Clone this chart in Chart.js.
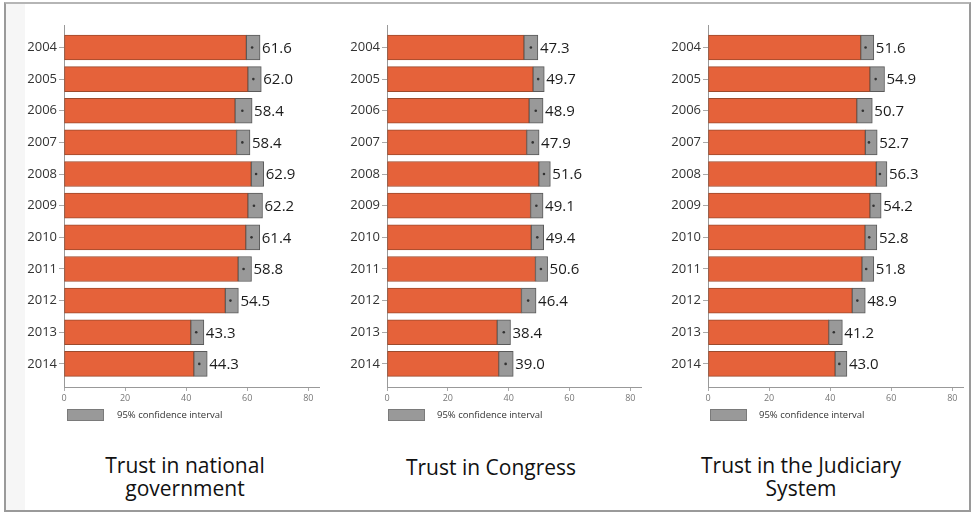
<!DOCTYPE html>
<html>
<head>
<meta charset="utf-8">
<script src="https://cdn.jsdelivr.net/npm/chart.js@4.4.1/dist/chart.umd.min.js"></script>
<style>
  body { margin: 0; background: #fff; font-family: "Open Sans", sans-serif; }
  #wrap { position: relative; width: 974px; height: 514px; overflow: hidden; }
  #frame { position: absolute; left: 4px; top: 2px; width: 963px; height: 506px; border: 2px solid #9a9a9a; border-top-color: #b5b5b5; }
  #strip { position: absolute; left: 6px; top: 4px; width: 19px; height: 506px; background: #f6f6f6; }
  canvas { position: absolute; top: 0; }
  .leg-box { position: absolute; top: 409px; width: 35px; height: 10px; background: #999; border: 1px solid #7a7a7a; }
  .leg-txt { position: absolute; top: 408px; font-size: 9.5px; color: #333; line-height: 14px; white-space: nowrap; }
  .title { position: absolute; top: 454px; width: 300px; text-align: center; font-size: 21px; line-height: 23px; color: #111; }
</style>
</head>
<body>
<div id="wrap">
  <div id="frame"></div>
  <div id="strip"></div>
  <canvas id="c1" width="323" height="410" style="left:0px"></canvas>
  <canvas id="c2" width="322" height="410" style="left:323px"></canvas>
  <canvas id="c3" width="323" height="410" style="left:644px"></canvas>

  <div class="leg-box" style="left:67px"></div><div class="leg-txt" style="left:117px">95% confidence interval</div>
  <div class="leg-box" style="left:388px"></div><div class="leg-txt" style="left:437px">95% confidence interval</div>
  <div class="leg-box" style="left:710px"></div><div class="leg-txt" style="left:759px">95% confidence interval</div>

  <div class="title" style="left:35px">Trust in national<br>government</div>
  <div class="title" style="left:341px;top:456px">Trust in Congress</div>
  <div class="title" style="left:651px">Trust in the Judiciary<br>System</div>
</div>
<script>
var years = ["2004", "2005", "2006", "2007", "2008", "2009", "2010", "2011", "2012", "2013", "2014"];
var xTicks = [0, 20, 40, 60, 80];

// trust in national government
var govValues = [61.6, 62.0, 58.4, 58.4, 62.9, 62.2, 61.4, 58.8, 54.5, 43.3, 44.3];
var govLow    = [59.7, 60.2, 56.0, 56.5, 61.3, 60.2, 59.5, 57.0, 52.8, 41.5, 42.5];
var govHigh   = [64.2, 64.6, 61.6, 60.9, 65.4, 65.0, 64.1, 61.4, 57.1, 45.8, 46.9];

// trust in congress
var conValues = [47.3, 49.7, 48.9, 47.9, 51.6, 49.1, 49.4, 50.6, 46.4, 38.4, 39.0];
var conLow    = [45.0, 48.0, 46.7, 45.9, 49.9, 47.2, 47.4, 48.8, 44.2, 36.2, 36.7];
var conHigh   = [49.6, 51.7, 51.3, 50.0, 53.7, 51.3, 51.5, 52.8, 49.0, 40.6, 41.5];

// trust in the judiciary system
var judValues = [51.6, 54.9, 50.7, 52.7, 56.3, 54.2, 52.8, 51.8, 48.9, 41.2, 43.0];
var judLow    = [50.0, 53.0, 48.7, 51.5, 55.1, 53.0, 51.4, 50.4, 47.2, 39.5, 41.6];
var judHigh   = [54.3, 57.8, 53.8, 55.4, 58.6, 56.7, 55.3, 54.3, 51.5, 44.0, 45.5];

function makePanel(id, values, low, high) {
  var labelPlugin = {
    id: "valueLabels",
    afterDatasetsDraw: function(chart) {
      var ctx = chart.ctx, xs = chart.scales.x, ys = chart.scales.y;
      ctx.save();
      ctx.font = "15px 'Open Sans'";
      ctx.fillStyle = "#1c1c1c";
      ctx.textBaseline = "middle";
      ctx.textAlign = "left";
      values.forEach(function(v, i) {
        ctx.fillText(v.toFixed(1), xs.getPixelForValue(high[i]) + 2, ys.getPixelForValue(i) + 1);
      });
      ctx.restore();
    }
  };

  return new Chart(id, {
    type: "bar",
    data: {
      datasets: [
        {
          type: "scatter",
          order: 0,
          data: values.map(function(v, i) { return {x: v, y: i}; }),
          pointRadius: 1.3,
          pointBackgroundColor: "#333",
          pointBorderWidth: 0
        },
        {
          order: 1,
          grouped: false,
          data: low.map(function(l, i) { return {y: i, x: [l, high[i]]}; }),
          backgroundColor: "#999999",
          borderColor: "#5a5a5a",
          borderWidth: 1,
          borderSkipped: false,
          barThickness: 25
        },
        {
          order: 2,
          grouped: false,
          data: low.map(function(l, i) { return {y: i, x: [0, l]}; }),
          backgroundColor: "#E5623A",
          borderColor: "#9c4a2c",
          borderWidth: 1,
          borderSkipped: false,
          barThickness: 25
        }
      ]
    },
    options: {
      indexAxis: "y",
      responsive: false,
      animation: false,
      layout: {padding: {top: 25, left: 0, right: 0, bottom: 0}},
      scales: {
        y: {
          type: "linear",
          reverse: true,
          offset: false,
          min: -0.71,
          max: 10.73,
          afterBuildTicks: function(s) { s.ticks = years.map(function(_, i) { return {value: i}; }); },
          afterFit: function(s) { s.width = 64; },
          ticks: {
            callback: function(v) { return years[v]; },
            font: {family: "Open Sans", size: 13},
            color: "#333",
            padding: 2
          },
          grid: {drawOnChartArea: false, offset: false, tickLength: 5, color: "#aaa"},
          border: {color: "#999"}
        },
        x: {
          type: "linear",
          min: 0,
          max: 83.5,
          afterBuildTicks: function(s) { s.ticks = xTicks.map(function(t) { return {value: t}; }); },
          afterFit: function(s) { s.height = 23; },
          ticks: {
            font: {family: "Open Sans", size: 9},
            color: "#777",
            padding: 2,
            maxRotation: 0
          },
          grid: {drawOnChartArea: false, tickLength: 4, color: "#aaa"},
          border: {color: "#999"}
        }
      },
      plugins: {
        legend: {display: false},
        tooltip: {enabled: false}
      }
    },
    plugins: [labelPlugin]
  });
}

makePanel("c1", govValues, govLow, govHigh);
makePanel("c2", conValues, conLow, conHigh);
makePanel("c3", judValues, judLow, judHigh);
</script>
</body>
</html>
